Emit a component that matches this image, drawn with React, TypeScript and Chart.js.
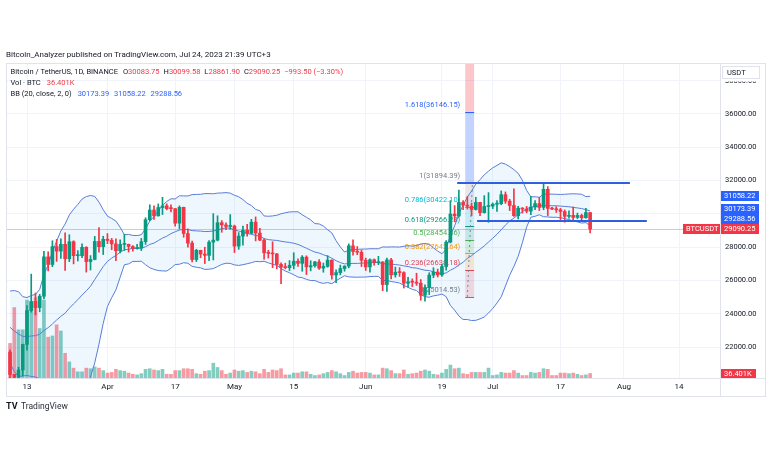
import { useEffect, useRef } from "react";
import { Chart, registerables } from "chart.js";

Chart.register(...registerables);

// ---------- data ----------
const firstDate = "2023-03-09";
const originDate = "2023-03-13";

const opens = [21704,20363,20187,20632,22163,24197,24746,24375,25055,27423,26965,28038,27767,28175,27307,28333,27493,27494,27994,27139,27268,28348,28033,28478,28411,28199,27790,28169,28175,28044,27925,27947,28333,29653,30235,29884,30384,30485,30318,30316,29445,30397,28822,28245,27262,27817,27591,27514,28307,28429,29473,29340,29248,29268,28068,28669,29026,28838,29506,28848,28430,27668,27628,27598,26969,26805,26775,26917,27162,27033,27405,26821,26890,27118,26747,26850,27225,26334,26476,26719,26868,28085,27745,27702,27219,26819,27249,27075,27119,25760,27238,26345,26498,26477,25841,25925,25902,25842,25122,25576,26327,26510,26336,26841,28307,29993,29884,30688,30528,30462,30267,30692,30077,30446,30472,30585,30617,31156,30767,30505,29895,30347,30292,30171,30414,30620,30391,31477,30334,30295,30249,30145,29856,29913,29792,29908,29771,30083.75];
const highs = [21834,20367,20792,22185,24500,26386,25250,25170,27756,27725,28390,28473,28500,28868,28752,28390,27797,28200,28037,27500,28650,29184,28660,28820,28530,28500,28444,28775,28190,28100,28180,28530,29770,30550,30485,30600,31000,30610,30550,30320,30485,30412,29100,28370,27882,27820,28000,28400,30020,29890,29600,29460,29960,29330,28880,29266,29379,29677,29820,29140,28498,27820,28330,27630,27060,27040,27200,27670,27300,27500,27485,27190,27150,27265,27050,27495,27250,26640,26930,26888,28200,28447,28044,27831,27350,27300,27300,27455,27130,27350,27340,26810,26780,26530,26200,26100,26440,26060,25750,26470,26770,26690,26980,28400,30800,30500,31431,30800,31046,30650,31000,30700,31100,31280,30660,30800,31380,31320,30880,31500,30450,30380,30450,31050,30800,30990,31804,31640,30390,30440,30340,30245,30190,30420,30050,29990,30340,30099.58];
const lows = [20042,19549,19949,20271,21813,24100,23930,24124,24891,26578,26830,27150,27330,26601,27136,27000,27175,27367,26505,26631,27241,27700,27562,28220,27850,27200,27662,27805,27711,27770,27882,27800,28170,29590,29666,29870,29966,30245,30120,29266,29100,28600,28010,27125,27140,27368,27020,27200,27235,28380,28900,29050,29080,27680,27873,28130,28670,28800,28380,28400,27280,27350,26770,26700,25811,26700,26600,26700,26850,26560,26360,26580,26800,26670,26500,26800,26080,25870,26340,26560,26760,27525,27550,26841,26605,26505,26920,26955,25388,25350,26100,26200,26250,25550,25600,25640,25710,24820,24756,25160,26170,26210,26255,26630,28260,29525,29800,30250,30290,29900,30230,29900,30050,29500,30320,30150,30550,30630,30200,29850,29700,30050,30070,29950,30250,30200,30250,29900,30250,30090,29660,29500,29750,29560,29720,29640,29740,28861.9];
const closes = [20363,20187,20632,22163,24197,24746,24375,25055,27423,26965,28038,27767,28175,27307,28333,27493,27494,27994,27139,27268,28348,28033,28478,28411,28199,27790,28169,28175,28044,27925,27947,28333,29653,30235,29884,30384,30485,30318,30316,29445,30397,28822,28245,27262,27817,27591,27514,28307,28429,29473,29340,29248,29268,28068,28669,29026,28838,29506,28848,28430,27668,27628,27598,26969,26805,26775,26917,27162,27033,27405,26821,26890,27118,26747,26850,27225,26334,26476,26719,26868,28085,27745,27702,27219,26819,27249,27075,27119,25760,27238,26345,26498,26477,25841,25925,25902,25842,25122,25576,26327,26510,26336,26841,28307,29993,29884,30688,30528,30462,30267,30692,30077,30446,30472,30585,30617,31156,30767,30505,29895,30347,30292,30171,30414,30620,30391,31477,30334,30295,30249,30145,29856,29913,29792,29908,29771,30083,29090.25];
// volume in thousands of BTC
const volumesK = [280,570,390,390,630,610,650,400,630,330,340,430,380,200,130,80,50,50,80,75,90,80,60,40,45,70,60,55,40,30,25,35,70,75,65,60,70,30,30,60,60,75,75,70,35,30,55,60,120,85,60,30,40,65,55,60,45,55,50,35,70,45,65,60,75,25,25,40,40,50,50,30,20,25,35,45,60,50,35,20,45,55,40,45,45,40,25,25,80,75,60,35,35,65,30,35,40,55,65,55,30,25,40,70,105,75,80,35,30,45,45,45,45,80,20,25,45,40,40,60,40,20,20,45,40,45,75,70,20,20,40,40,35,40,30,20,25,36.401];
const bbBasis = [23190,22970,22790,22650,22640,22670,22690,22780,23000,23170,23390,23630,23850,24040,24340,24600,24850,25130,25380,25660,26060,26450,26840,27150,27350,27510,27700,27850,27880,27930,27930,27950,28030,28170,28250,28400,28550,28660,28820,28930,29030,29070,29060,29000,28980,28970,28940,28950,28970,29040,29110,29160,29140,29030,28970,28900,28820,28780,28710,28660,28520,28460,28430,28410,28360,28320,28290,28240,28170,28060,27940,27820,27710,27650,27550,27460,27340,27190,27080,27000,27020,27030,27030,27050,27050,27070,27080,27080,27010,27000,26980,26960,26930,26880,26840,26770,26750,26680,26620,26600,26520,26450,26400,26460,26620,26750,26930,27100,27330,27490,27700,27880,28080,28310,28540,28780,29050,29330,29580,29750,29950,30140,30310,30410,30450,30470,30510,30500,30490,30490,30470,30450,30430,30390,30360,30320,30260,30173.39];
const bbUpper = [25370,25400,25330,25030,24980,25100,25170,25470,26360,26940,27730,28360,28980,29390,29940,30280,30570,30890,31040,31110,31050,30710,30250,29870,29730,29570,29200,28750,28770,28710,28700,28750,29110,29570,29840,30190,30510,30750,30910,30900,31090,31080,31080,31160,31170,31180,31220,31220,31210,31250,31260,31280,31250,31120,31030,30860,30640,30500,30270,30190,29880,29860,29880,29920,30010,30070,30120,30130,30130,29950,29800,29640,29420,29400,29270,29050,28860,28390,28020,27710,27830,27850,27870,27890,27890,27910,27910,27910,28020,28010,28020,28020,28010,28060,28090,28070,28100,28200,28220,28190,27960,27770,27610,27890,28720,29280,29990,30540,31010,31380,31790,32060,32350,32570,32770,32910,33070,32990,32840,32660,32440,32020,31410,31030,31030,31000,31190,31190,31190,31180,31170,31180,31200,31210,31200,31180,31040,31058.22];
const bbLower = [21020,20540,20240,20270,20300,20240,20210,20100,19640,19390,19060,18890,18720,18700,18750,18920,19130,19370,19720,20210,21060,22180,23430,24440,24970,25440,26200,26950,27000,27150,27150,27160,26950,26770,26670,26600,26580,26570,26740,26960,26980,27070,27040,26850,26800,26760,26670,26680,26720,26840,26970,27040,27030,26940,26910,26950,27010,27070,27150,27130,27160,27060,26980,26910,26720,26570,26470,26350,26210,26170,26070,26000,26000,25890,25830,25880,25810,25990,26140,26290,26220,26210,26200,26210,26210,26240,26250,26250,26000,26010,25940,25900,25850,25710,25590,25470,25400,25160,25030,25000,25080,25120,25190,25030,24510,24220,23870,23660,23660,23600,23610,23700,23810,24050,24320,24650,25020,25670,26320,26850,27450,28270,29210,29800,29860,29950,29830,29820,29800,29800,29770,29720,29660,29580,29520,29450,29480,29288.56];

const tickDates = ["2023-03-13","2023-04-01","2023-04-17","2023-05-01","2023-05-15","2023-06-01","2023-06-19","2023-07-01","2023-07-17","2023-08-01","2023-08-14"];
const tickLabels = ["13","Apr","17","May","15","Jun","19","Jul","17","Aug","14"];
const priceTicks = [22000,24000,26000,28000,30000,32000,34000,36000,38000];

const fibLow = 25014.53;
const fibHigh = 31894.39;
const fibLevels = [0,0.236,0.382,0.5,0.618,0.786,1,1.618,2.618];
const fibTexts = ["0(25014.53)","0.236(26638.18)","0.382(27642.64)","0.5(28454.46)","0.618(29266.28)","0.786(30422.10)","1(31894.39)","1.618(36146.15)",""];
const fibColors = ["#787b86","#f23645","#ff9800","#4caf50","#089981","#00bcd4","#787b86","#2962ff","#f23645"];
const fibDays = [103.5,105.6];

const hLines = [
  { from: 101.6, to: 142.4, price: 31880 },
  { from: 106.3, to: 146.4, price: 29575 },
];

const bbHeader = ["30173.39","31058.22","29288.56"];
const bbTagValues = [31058.22,30173.39,29288.56];
const lastPrice = 29090.25;
const lastVolK = 36.401;

// ---------- helpers ----------
const DAY = 86400000;
const dayOf = (s: string) => Math.round((Date.parse(s + "T00:00:00Z") - Date.parse(originDate + "T00:00:00Z")) / DAY);
const firstDay = dayOf(firstDate);
const xs = opens.map((_, i) => firstDay + i);
const tickDays = tickDates.map(dayOf);

const UP = "#089981";
const DOWN = "#f23645";
const UPV = "rgba(8,153,129,0.5)";
const DOWNV = "rgba(242,54,69,0.5)";
const BB = "#5a7cd8";
const FONT = "Roboto, 'Noto Sans', sans-serif";
const DARK = "#131722";
const BORDER = "#e0e3eb";

const candleColors = closes.map((c, i) => (c >= opens[i] ? UP : DOWN));
const volColors = closes.map((c, i) => (c >= opens[i] ? UPV : DOWNV));

function hexA(hex: string, a: number) {
  const n = parseInt(hex.slice(1), 16);
  return `rgba(${(n >> 16) & 255},${(n >> 8) & 255},${n & 255},${a})`;
}

function tag(ctx: any, x: number, yc: number, w: number, h: number, bg: string, text: string) {
  ctx.fillStyle = bg;
  ctx.fillRect(x, Math.round(yc - h / 2), w, h);
  ctx.fillStyle = "#ffffff";
  ctx.textAlign = "left";
  ctx.textBaseline = "middle";
  ctx.fillText(text, x + 3, Math.round(yc - h / 2) + h / 2 + 0.5);
}

const overlay = {
  id: "overlay",
  beforeDatasetsDraw(chart: any) {
    const { ctx, chartArea: a, scales } = chart;
    const x = scales.x, y = scales.y;
    ctx.save();
    ctx.beginPath();
    ctx.rect(a.left, a.top, a.right - a.left, a.bottom - a.top);
    ctx.clip();
    // last price line
    const py = Math.round(y.getPixelForValue(lastPrice)) + 0.5;
    ctx.strokeStyle = "rgba(242,54,69,0.35)";
    ctx.lineWidth = 1;
    ctx.beginPath();
    ctx.moveTo(a.left, py);
    ctx.lineTo(a.right, py);
    ctx.stroke();
    // fib zones
    const x1 = x.getPixelForValue(fibDays[0]);
    const x2 = x.getPixelForValue(fibDays[1]);
    const range = fibHigh - fibLow;
    const lvlY = fibLevels.map((l) => y.getPixelForValue(fibLow + l * range));
    for (let i = 1; i < fibLevels.length; i++) {
      ctx.fillStyle = hexA(fibColors[i], i >= 7 ? 0.28 : 0.18);
      ctx.fillRect(x1, lvlY[i], x2 - x1, lvlY[i - 1] - lvlY[i]);
    }
    ctx.lineWidth = 1;
    for (let i = 0; i < fibLevels.length; i++) {
      ctx.strokeStyle = fibColors[i];
      ctx.beginPath();
      ctx.moveTo(x1, Math.round(lvlY[i]) + 0.5);
      ctx.lineTo(x2, Math.round(lvlY[i]) + 0.5);
      ctx.stroke();
    }
    // trend line of fib
    ctx.strokeStyle = "rgba(120,123,134,0.9)";
    ctx.setLineDash([2, 3]);
    ctx.beginPath();
    ctx.moveTo(x.getPixelForValue(fibDays[0] + 0.5), lvlY[0]);
    ctx.lineTo(x.getPixelForValue(fibDays[1] - 0.4), lvlY[6]);
    ctx.stroke();
    ctx.setLineDash([]);
    // labels
    ctx.font = `7.5px ${FONT}`;
    ctx.textAlign = "right";
    ctx.textBaseline = "middle";
    for (let i = 0; i < fibTexts.length; i++) {
      if (!fibTexts[i]) continue;
      ctx.fillStyle = fibColors[i];
      ctx.fillText(fibTexts[i], x1 - 5, lvlY[i] - 6.5);
    }
    ctx.restore();
  },
  afterDatasetsDraw(chart: any) {
    const { ctx, chartArea: a, scales } = chart;
    const x = scales.x, y = scales.y;
    ctx.save();
    ctx.beginPath();
    ctx.rect(a.left, a.top, a.right - a.left, a.bottom - a.top);
    ctx.clip();
    ctx.strokeStyle = "#2f5fe0";
    ctx.lineWidth = 2;
    for (const l of hLines) {
      const yy = Math.round(y.getPixelForValue(l.price));
      ctx.beginPath();
      ctx.moveTo(x.getPixelForValue(l.from), yy);
      ctx.lineTo(x.getPixelForValue(l.to), yy);
      ctx.stroke();
    }
    ctx.restore();
  },
  afterDraw(chart: any) {
    const { ctx, chartArea: a, scales } = chart;
    const y = scales.y, yv = scales.yv;
    ctx.save();
    // frame
    ctx.strokeStyle = BORDER;
    ctx.lineWidth = 1;
    ctx.strokeRect(6.5, 63.5, 759, 333);
    ctx.beginPath();
    ctx.moveTo(a.right + 0.5, 63);
    ctx.lineTo(a.right + 0.5, 397);
    ctx.moveTo(6, a.bottom + 0.5);
    ctx.lineTo(766, a.bottom + 0.5);
    ctx.stroke();
    // USDT box
    ctx.fillStyle = "#ffffff";
    ctx.fillRect(a.right + 1, 64, 44, 17.5);
    ctx.strokeStyle = BORDER;
    ctx.strokeRect(722.5, 66.5, 37, 12);
    ctx.font = `7.5px ${FONT}`;
    ctx.fillStyle = DARK;
    ctx.textAlign = "left";
    ctx.textBaseline = "middle";
    ctx.fillText("USDT", 727, 73);
    // title
    ctx.font = `8px ${FONT}`;
    ctx.fillStyle = DARK;
    ctx.fillText("Bitcoin_Analyzer published on TradingView.com, Jul 24, 2023 21:39 UTC+3", 6, 54.5);
    // legend line 1
    ctx.font = `7.5px ${FONT}`;
    let cx = 10.5;
    const put = (t: string, col: string, gap = 0) => {
      ctx.fillStyle = col;
      ctx.fillText(t, cx, 72);
      cx += ctx.measureText(t).width + gap;
    };
    put("Bitcoin / TetherUS, 1D, BINANCE", DARK, 5);
    put("O", DARK); put("30083.75", DOWN, 4);
    put("H", DARK); put("30099.58", DOWN, 4);
    put("L", DARK); put("28861.90", DOWN, 4);
    put("C", DARK); put("29090.25", DOWN, 4);
    put("\u2212993.50 (\u22123.30%)", DOWN);
    // line 2
    cx = 10.5;
    const put2 = (t: string, col: string, yy: number, gap = 0) => {
      ctx.fillStyle = col;
      ctx.fillText(t, cx, yy);
      cx += ctx.measureText(t).width + gap;
    };
    put2("Vol \u00b7 BTC", DARK, 83, 6);
    put2("36.401K", DOWN, 83);
    cx = 10.5;
    put2("BB (20, close, 2, 0)", DARK, 94, 6);
    put2(bbHeader[0], "#2962ff", 94, 5);
    put2(bbHeader[1], "#2962ff", 94, 5);
    put2(bbHeader[2], "#2962ff", 94);
    // axis tags
    ctx.font = `7.5px ${FONT}`;
    const redY = y.getPixelForValue(lastPrice);
    tag(ctx, a.right + 1, redY, 38, 10, DOWN, "29090.25");
    tag(ctx, a.right - 37, redY, 37, 10, DOWN, "BTCUSDT");
    let prev = redY;
    const ys: number[] = [];
    for (let i = bbTagValues.length - 1; i >= 0; i--) {
      let yy = y.getPixelForValue(bbTagValues[i]);
      if (yy > prev - 10) yy = prev - 10;
      ys[i] = yy;
      prev = yy;
    }
    for (let i = 0; i < bbTagValues.length; i++) {
      tag(ctx, a.right + 1, ys[i], 38, 10, "#2962ff", bbTagValues[i].toFixed(2));
    }
    tag(ctx, a.right + 1, yv.getPixelForValue(lastVolK) , 35, 9, DOWN, "36.401K");
    // TradingView logo
    ctx.fillStyle = DARK;
    ctx.font = `bold 9px ${FONT}`;
    ctx.fillText("TV", 6, 407);
    ctx.font = `8.5px ${FONT}`;
    ctx.fillStyle = "#2a2e39";
    ctx.fillText("TradingView", 21, 407);
    ctx.restore();
  },
};

export default function App() {
  const ref = useRef<HTMLCanvasElement>(null);
  useEffect(() => {
    document.body.style.margin = "0";
    const canvas = ref.current;
    if (!canvas) return;
    const chart = new Chart(canvas, {
      type: "bar",
      data: {
        datasets: [
          {
            type: "bar",
            label: "Volume",
            yAxisID: "yv",
            data: xs.map((d, i) => ({ x: d, y: volumesK[i] })),
            backgroundColor: volColors,
            barThickness: 3,
            grouped: false,
            order: 10,
          } as any,
          {
            type: "line",
            label: "Upper",
            data: xs.map((d, i) => ({ x: d, y: bbUpper[i] })),
            borderColor: BB,
            borderWidth: 1,
            pointRadius: 0,
            tension: 0,
            fill: "+2",
            backgroundColor: "rgba(33,150,243,0.08)",
            order: 5,
          },
          {
            type: "line",
            label: "Basis",
            data: xs.map((d, i) => ({ x: d, y: bbBasis[i] })),
            borderColor: BB,
            borderWidth: 1,
            pointRadius: 0,
            tension: 0,
            fill: false,
            order: 5,
          },
          {
            type: "line",
            label: "Lower",
            data: xs.map((d, i) => ({ x: d, y: bbLower[i] })),
            borderColor: BB,
            borderWidth: 1,
            pointRadius: 0,
            tension: 0,
            fill: false,
            order: 5,
          },
          {
            type: "bar",
            label: "Wick",
            data: xs.map((d, i) => ({ x: d, y: [lows[i], highs[i]] })),
            backgroundColor: candleColors,
            barThickness: 1,
            grouped: false,
            order: 2,
          } as any,
          {
            type: "bar",
            label: "Body",
            data: xs.map((d, i) => ({ x: d, y: [opens[i], closes[i]] })),
            backgroundColor: candleColors,
            barThickness: 3,
            minBarLength: 1,
            grouped: false,
            order: 1,
          } as any,
        ],
      },
      options: {
        responsive: false,
        animation: false,
        events: [],
        layout: { padding: { left: 7, top: 63, right: 3, bottom: 68 } },
        plugins: {
          legend: { display: false },
          tooltip: { enabled: false },
        },
        scales: {
          x: {
            type: "linear",
            min: -4.7237,
            max: 163.675,
            offset: false,
            afterFit: (s: any) => { s.height = 17; },
            afterBuildTicks: (s: any) => { s.ticks = tickDays.map((v) => ({ value: v })); },
            grid: { color: "#f0f3fa", drawTicks: false, offset: false },
            border: { display: false },
            ticks: {
              autoSkip: false,
              maxRotation: 0,
              padding: 4,
              color: DARK,
              font: { size: 8, family: FONT },
              callback: (_v: any, i: number) => tickLabels[i],
            },
          },
          y: {
            type: "linear",
            position: "right",
            min: 20149,
            max: 39062,
            afterFit: (s: any) => { s.width = 45; },
            afterBuildTicks: (s: any) => { s.ticks = priceTicks.map((v) => ({ value: v })); },
            grid: { color: "#f0f3fa", drawTicks: false },
            border: { display: false },
            ticks: {
              padding: 5,
              color: DARK,
              font: { size: 7.5, family: FONT },
              callback: (v: any) => Number(v).toFixed(2),
            },
          },
          yv: {
            type: "linear",
            display: false,
            min: 0,
            max: 2548,
          },
        },
      } as any,
      plugins: [overlay as any],
    });
    return () => chart.destroy();
  }, []);
  return (
    <div style={{ width: 768, height: 463, background: "#ffffff" }}>
      <canvas ref={ref} width={768} height={463} style={{ display: "block" }} />
    </div>
  );
}
